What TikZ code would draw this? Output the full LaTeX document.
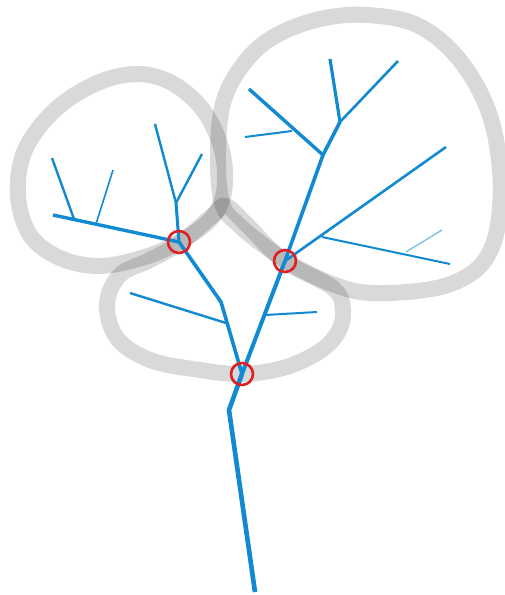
\documentclass[tikz,border=0pt]{standalone}
\begin{document}
\begin{tikzpicture}[x=1pt,y=-1pt,
  blob/.style={line width=16pt, draw=black, draw opacity=0.15},
  br/.style={draw=treeblue, line join=round},
  ring/.style={draw=ringred, line width=2.6pt}]
\definecolor{treeblue}{RGB}{18,138,210}
\definecolor{lightblue}{RGB}{120,190,232}
\definecolor{ringred}{RGB}{222,32,36}
\useasboundingbox (0,0) rectangle (505,595);
\fill[white] (0,0) rectangle (505,595);
% blobs
\draw[blob] plot[smooth cycle, tension=0.6] coordinates {
 (222,203) (218,150) (224,100) (245,62) (275,36) (320,19) (367,15) (417,25)
 (458,58) (488,110) (500,170) (498,225) (485,260) (460,280) (425,290)
 (370,293) (335,285) (300,269) (270,250) (240,226)};
\draw[blob] plot[smooth cycle, tension=0.6] coordinates {
 (179,242) (208,222) (222,200) (225,170) (218,138) (200,106) (170,82) (135,74)
 (95,84) (55,110) (25,150) (18,195) (30,235) (60,258) (100,266) (145,257)};
\draw[blob] plot[smooth cycle, tension=0.6] coordinates {
 (242,374) (200,370) (150,360) (117,338) (107,304) (120,275) (150,260)
 (180,243) (212,216) (226,206) (248,226) (284,261) (333,288) (343,311)
 (337,334) (317,353) (283,368)};
% tree coordinates
\coordinate (base) at (255,592);
\coordinate (kink) at (229,410);
\coordinate (jb) at (242,374);
\coordinate (lk) at (221,302);
\coordinate (jl) at (179,242);
\coordinate (jr) at (285,261);
\coordinate (lt1) at (226,323); \coordinate (lt1e) at (130,293);
\coordinate (rt1) at (265,315); \coordinate (rt1e) at (317,312);
\coordinate (r1) at (323,155); \coordinate (r2) at (340,122);
\coordinate (r2a) at (330,59); \coordinate (r2b) at (398,61);
\coordinate (r1e) at (249,89); \coordinate (r1s) at (292,131); \coordinate (r1se) at (245,137);
\coordinate (r3e) at (446,147); \coordinate (r3s) at (322,237); \coordinate (r3se) at (450,264);
\coordinate (r4s) at (406,252); \coordinate (r4e) at (442,230);
\coordinate (l1) at (176,203); \coordinate (l1a) at (155,124); \coordinate (l1b) at (202,154);
\coordinate (l2e) at (53,215); \coordinate (l2s) at (74,219); \coordinate (l2se) at (52,158);
\coordinate (l3s) at (96,224); \coordinate (l3e) at (113,170);
% tree
\draw[br, line width=4.6pt] (base) -- (kink) -- (jb);
\draw[br, line width=3.6pt] (jb) -- (lk) -- (jl);
\draw[br, line width=4pt] (jb) -- (jr);
\draw[br, line width=2.4pt] (lt1) -- (lt1e);
\draw[br, line width=2pt] (rt1) -- (rt1e);
\draw[br, line width=3.6pt] (jr) -- (r1) -- (r2);
\draw[br, line width=3.2pt] (r2) -- (r2a);
\draw[br, line width=2.6pt] (r2) -- (r2b);
\draw[br, line width=3.4pt] (r1) -- (r1e);
\draw[br, line width=2pt] (r1s) -- (r1se);
\draw[br, line width=2.6pt] (jr) -- (r3e);
\draw[br, line width=2pt] (r3s) -- (r3se);
\draw[draw=lightblue, line width=1.3pt] (r4s) -- (r4e);
\draw[br, line width=3pt] (jl) -- (l1);
\draw[br, line width=2.4pt] (l1) -- (l1a);
\draw[br, line width=2.4pt] (l1) -- (l1b);
\draw[br, line width=3.4pt] (jl) -- (l2e);
\draw[br, line width=2.4pt] (l2s) -- (l2se);
\draw[br, line width=1.6pt] (l3s) -- (l3e);
% rings
\draw[ring] (jb) circle[radius=11pt];
\draw[ring] (jl) circle[radius=11pt];
\draw[ring] (jr) circle[radius=11pt];
\end{tikzpicture}
\end{document}
